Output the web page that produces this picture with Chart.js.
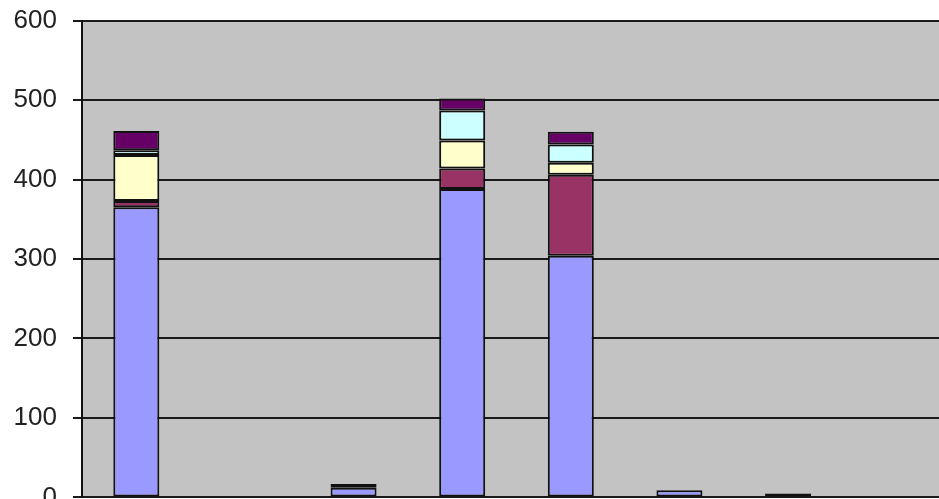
<!DOCTYPE html>
<html>
<head>
  <title>Stacked columns</title>
  <style>
    html, body { margin: 0; padding: 0; background: #fff; overflow: hidden; }
    #wrap { width: 939px; height: 499px; overflow: hidden; position: relative; }
    canvas { position: absolute; left: 0; top: -11px; }
  </style>
</head>
<body>
  <div id="wrap">
    <canvas id="column-chart" width="960" height="540"></canvas>
  </div>

  <script src="https://cdn.jsdelivr.net/npm/chart.js"></script>
  <script>
    // categories (x labels are cut off in the picture)
    const categories = ['1', '2', '3', '4', '5', '6', '7', '8'];

    // series values, bottom to top
    const blueValues   = [365, null, 12, 388, 304, 9, null, null];
    const maroonValues = [8, null, null, 26, 102, null, null, null];
    const yellowValues = [58, null, null, 35, 15, null, null, null];
    const cyanValues   = [6, null, null, 38, 23, null, null, null];
    const purpleValues = [24, null, 5, 15, 16, null, 5, null];

    const yTicks = [0, 100, 200, 300, 400, 500, 600];

    // gray plot area like the old spreadsheet charts
    const plotBackground = {
      id: 'plotBackground',
      beforeDraw(chart) {
        const a = chart.chartArea;
        const ctx = chart.ctx;
        ctx.save();
        ctx.fillStyle = '#c3c3c3';
        ctx.fillRect(a.left, a.top, a.right - a.left, a.bottom - a.top);
        ctx.restore();
      }
    };

    function series(label, data, color) {
      return {
        label: label,
        data: data,
        backgroundColor: color,
        borderColor: '#111',
        borderWidth: 2,
        borderSkipped: false,
        categoryPercentage: 1,
        barPercentage: 0.4235
      };
    }

    const ctx = document.getElementById('column-chart').getContext('2d');
    new Chart(ctx, {
      type: 'bar',
      data: {
        labels: categories,
        datasets: [
          series('Series 1', blueValues, '#9999ff'),
          series('Series 2', maroonValues, '#993366'),
          series('Series 3', yellowValues, '#ffffcc'),
          series('Series 4', cyanValues, '#ccffff'),
          series('Series 5', purpleValues, '#660066')
        ]
      },
      options: {
        responsive: false,
        animation: false,
        layout: { padding: { top: 21, bottom: 23, left: 0, right: 9 } },
        plugins: {
          legend: { display: false },
          tooltip: { enabled: false }
        },
        scales: {
          x: {
            stacked: true,
            display: false
          },
          y: {
            stacked: true,
            min: 0,
            max: 600,
            afterBuildTicks: function (scale) {
              scale.ticks = yTicks.map(v => ({ value: v }));
            },
            afterFit: function (scale) {
              scale.width = 82;
            },
            border: { display: true, color: '#111', width: 2 },
            grid: {
              color: '#1a1a1a',
              lineWidth: 2,
              drawTicks: true,
              tickLength: 9,
              tickColor: '#1a1a1a'
            },
            ticks: {
              padding: 16,
              color: '#222',
              font: { family: "'Liberation Sans', Arial, sans-serif", size: 26 }
            }
          }
        }
      },
      plugins: [plotBackground]
    });
  </script>
</body>
</html>
